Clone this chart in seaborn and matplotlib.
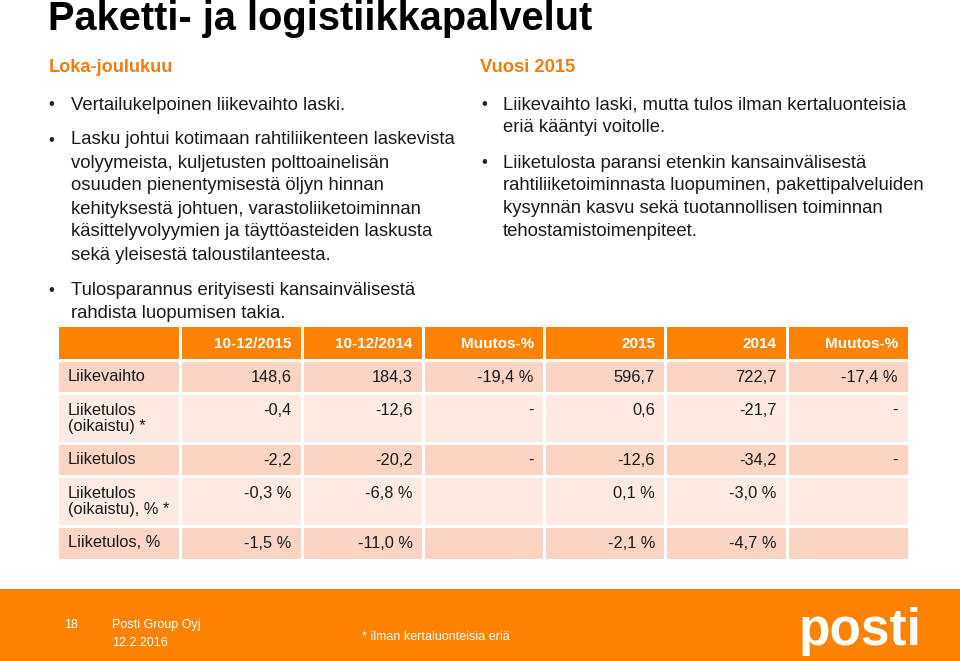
import matplotlib.pyplot as plt
import numpy as np
import seaborn as sns
from matplotlib.colors import ListedColormap
from matplotlib import font_manager

# Slide text
title = 'Paketti- ja logistiikkapalvelut'
left_head = 'Loka-joulukuu'
right_head = 'Vuosi 2015'
left_bullets = [
    ['Vertailukelpoinen liikevaihto laski.'],
    ['Lasku johtui kotimaan rahtiliikenteen laskevista',
     'volyymeista, kuljetusten polttoainelisän',
     'osuuden pienentymisestä öljyn hinnan',
     'kehityksestä johtuen, varastoliiketoiminnan',
     'käsittelyvolyymien ja täyttöasteiden laskusta',
     'sekä yleisestä taloustilanteesta.'],
    ['Tulosparannus erityisesti kansainvälisestä',
     'rahdista luopumisen takia.'],
]
right_bullets = [
    ['Liikevaihto laski, mutta tulos ilman kertaluonteisia',
     'eriä kääntyi voitolle.'],
    ['Liiketulosta paransi etenkin kansainvälisestä',
     'rahtiliiketoiminnasta luopuminen, pakettipalveluiden',
     'kysynnän kasvu sekä tuotannollisen toiminnan',
     'tehostamistoimenpiteet.'],
]

# Table data
col_labels = ['10-12/2015', '10-12/2014', 'Muutos-%', '2015', '2014', 'Muutos-%']
row_labels = ['Liikevaihto', 'Liiketulos\n(oikaistu) *', 'Liiketulos',
              'Liiketulos\n(oikaistu), % *', 'Liiketulos, %']
q4_2015 = ['148,6', '-0,4', '-2,2', '-0,3 %', '-1,5 %']
q4_2014 = ['184,3', '-12,6', '-20,2', '-6,8 %', '-11,0 %']
q4_change = ['-19,4 %', '-', '-', '', '']
fy_2015 = ['596,7', '0,6', '-12,6', '0,1 %', '-2,1 %']
fy_2014 = ['722,7', '-21,7', '-34,2', '-3,0 %', '-4,7 %']
fy_change = ['-17,4 %', '-', '-', '', '']

footer_page = '18'
footer_company = 'Posti Group Oyj'
footer_date = '12.2.2016'
footer_note = '* ilman kertaluonteisia eriä'

ORANGE = '#FF8200'
ORANGE_TXT = '#EF7D13'
DARK = '#FBD4C4'
LIGHT = '#FDEAE2'
INK = '#1a1a1a'

sns.set_theme(style='white')
plt.rcParams['font.family'] = ['Liberation Sans', 'DejaVu Sans']

installed = {f.name for f in font_manager.fontManager.ttflist}
logo_family = ['Liberation Sans Narrow'] if 'Liberation Sans Narrow' in installed else ['Liberation Sans']

W, H = 960, 661
fig = plt.figure(figsize=(W / 100, H / 100), dpi=100)


def fx(px):
    return px / W


def fy(py):
    return 1 - py / H


# title and sub headings
fig.text(fx(48), fy(30), title, fontsize=28.6, weight='bold', color='black', va='baseline')
fig.text(fx(49), fy(68), left_head, fontsize=13.1, weight='bold', color=ORANGE_TXT, va='center')
fig.text(fx(480), fy(68), right_head, fontsize=13.2, weight='bold', color=ORANGE_TXT, va='center')


def bullets(groups, starts, x_bullet, x_text, line_h):
    for lines, y in zip(groups, starts):
        fig.text(fx(x_bullet), fy(y), '•', fontsize=12, color='#222222', va='center')
        for ln in lines:
            fig.text(fx(x_text), fy(y), ln, fontsize=13.3, color=INK, va='center')
            y += line_h


bullets(left_bullets, [105, 140, 290], 48, 71, 23)
bullets(right_bullets, [105, 163], 481, 503, 22.8)

# table: rows stretched to unit heights (header 2, single line 2, two-line 3)
row_units = [2, 2, 3, 2, 3, 2]
shade = [0, 1, 2, 1, 2, 1]
n_cols = len(col_labels) + 1
grid = np.repeat(np.array(shade)[:, None], n_cols, axis=1)
grid = np.repeat(grid, row_units, axis=0)

ax = fig.add_axes([fx(59), fy(559), fx(908 - 59), (559 - 327) / H])
sns.heatmap(grid, ax=ax, cmap=ListedColormap([ORANGE, DARK, LIGHT]),
            vmin=-0.5, vmax=2.5, cbar=False, linewidths=0,
            xticklabels=False, yticklabels=False)
bounds = np.cumsum([0] + row_units)
for b in bounds[1:-1]:
    ax.axhline(b, color='white', lw=2.2)
for c in range(1, n_cols):
    ax.axvline(c, color='white', lw=2.2)

pad = 0.085
for j, lab in enumerate(col_labels):
    ax.text(j + 2 - pad, bounds[0] + row_units[0] / 2, lab, ha='right', va='center',
            fontsize=11, weight='bold', color='white')

columns = [q4_2015, q4_2014, q4_change, fy_2015, fy_2014, fy_change]
for i, lab in enumerate(row_labels):
    top = bounds[i + 1]
    units = row_units[i + 1]
    ax.text(0.075, top + units / 2 + (0.05 if units == 3 else 0), lab, ha='left',
            va='center', fontsize=11.8, color=INK, linespacing=1.08)
    for j, col in enumerate(columns):
        ax.text(j + 2 - pad, top + 1.05, col[i], ha='right', va='center',
                fontsize=11.8, color=INK)

# footer band
fax = fig.add_axes([0, 0, 1, (H - 589) / H])
fax.set_facecolor(ORANGE)
fax.set_xticks([])
fax.set_yticks([])
for s in fax.spines.values():
    s.set_visible(False)
fig.text(fx(64), fy(625), footer_page, fontsize=9, color='white', va='center')
fig.text(fx(112), fy(625), footer_company, fontsize=9, color='white', va='center')
fig.text(fx(112), fy(643), footer_date, fontsize=9, color='white', va='center')
fig.text(fx(362), fy(637), footer_note, fontsize=9, color='white', va='center')
fig.text(fx(799), fy(645), 'posti', fontsize=42 if logo_family[0].endswith('Narrow') else 37,
         family=logo_family, weight='bold', color='white', va='baseline')

fig.savefig('out.png', dpi=100)
